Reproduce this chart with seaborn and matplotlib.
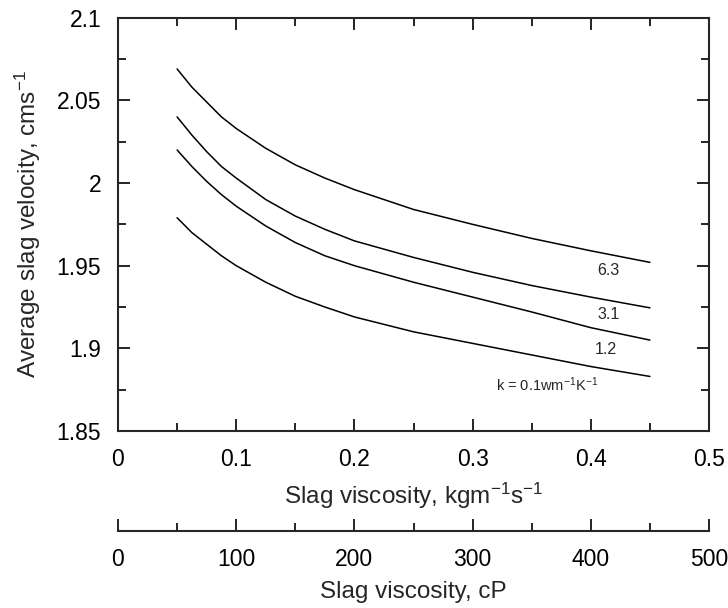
import numpy as np
import pandas as pd
import matplotlib
matplotlib.use("Agg")
import matplotlib.pyplot as plt
import seaborn as sns
from matplotlib.ticker import MultipleLocator, FixedLocator

# ---- data ----
viscosity = [0.05, 0.0625, 0.075, 0.0875, 0.10, 0.125, 0.15, 0.175, 0.20, 0.25, 0.30, 0.35, 0.40, 0.45]
vel_k63 = [2.069, 2.058, 2.049, 2.040, 2.033, 2.021, 2.011, 2.003, 1.996, 1.984, 1.975, 1.9665, 1.959, 1.952]
vel_k31 = [2.040, 2.029, 2.019, 2.010, 2.003, 1.990, 1.980, 1.972, 1.965, 1.955, 1.946, 1.938, 1.931, 1.9245]
vel_k12 = [2.020, 2.010, 2.001, 1.993, 1.986, 1.974, 1.964, 1.956, 1.950, 1.940, 1.931, 1.922, 1.9125, 1.905]
vel_k01 = [1.979, 1.970, 1.963, 1.956, 1.950, 1.940, 1.9315, 1.925, 1.919, 1.910, 1.903, 1.896, 1.889, 1.883]
k_labels = ["6.3", "3.1", "1.2", "k = 0.1wm$^{-1}$K$^{-1}$"]
label_x = [0.4146, 0.4154, 0.413, 0.363]
label_y = [1.947, 1.9205, 1.8994, 1.878]
x_ticklabels = ["0", "0.1", "0.2", "0.3", "0.4", "0.5"]
y_ticklabels = ["1.85", "1.9", "1.95", "2", "2.05", "2.1"]
cp_ticks = [0, 100, 200, 300, 400, 500]

series = {"6.3": vel_k63, "3.1": vel_k31, "1.2": vel_k12, "0.1": vel_k01}
df = pd.concat(
    [pd.DataFrame({"viscosity": viscosity, "velocity": v, "k": k}) for k, v in series.items()],
    ignore_index=True,
)

sns.set_theme(style="ticks")
plt.rcParams["font.family"] = ["Liberation Sans", "DejaVu Sans"]
plt.rcParams["mathtext.default"] = "regular"

TICK_FS = 16.5
LABEL_FS = 17.5

fig = plt.figure(figsize=(7.28, 6.08), dpi=100)
ax = fig.add_axes([118 / 728, 1 - 431 / 608, (709 - 118) / 728, (431 - 17.7) / 608])

sns.lineplot(data=df, x="viscosity", y="velocity", hue="k", units="k", estimator=None,
             palette=["black"] * 4, legend=False, linewidth=1.1, ax=ax, sort=True)

ax.set_xlim(0, 0.5)
ax.set_ylim(1.85, 2.1)
ax.set_xticks(np.arange(0, 0.51, 0.1))
ax.set_xticklabels(x_ticklabels)
ax.set_yticks(np.arange(1.85, 2.101, 0.05))
ax.set_yticklabels(y_ticklabels)
ax.xaxis.set_minor_locator(MultipleLocator(0.05))
ax.yaxis.set_minor_locator(MultipleLocator(0.025))

for s in ax.spines.values():
    s.set_linewidth(1.5)
    s.set_visible(True)
ax.tick_params(which="both", direction="in", top=True, right=True, width=1.2, colors="black")
ax.tick_params(which="major", length=8.5, labelsize=TICK_FS, pad=12)
ax.tick_params(which="minor", length=5.5)

ax.set_xlabel("Slag viscosity, kgm$^{-1}$s$^{-1}$", fontsize=LABEL_FS, labelpad=7)
ax.set_ylabel("Average slag velocity, cms$^{-1}$", fontsize=LABEL_FS, labelpad=10)

for t, xx, yy in zip(k_labels, label_x, label_y):
    ax.text(xx, yy, t, fontsize=11.5 if t[0] != "k" else 10.5, ha="center", va="center")

# secondary axis in centipoise
sec = ax.secondary_xaxis(-0.243, functions=(lambda x: x * 1000, lambda x: x / 1000))
sec.xaxis.set_major_locator(FixedLocator(cp_ticks))
sec.xaxis.set_minor_locator(FixedLocator([50, 150, 250, 350, 450]))
sec.set_xticklabels([str(v) for v in cp_ticks])
sec.spines["bottom"].set_linewidth(1.5)
sec.tick_params(which="both", direction="in", width=1.2, colors="black")
sec.tick_params(which="major", length=8.5, labelsize=TICK_FS, pad=12)
sec.tick_params(which="minor", length=5.5)
sec.set_xlabel("Slag viscosity, cP", fontsize=LABEL_FS, labelpad=7)

fig.savefig("out.png", dpi=100)
